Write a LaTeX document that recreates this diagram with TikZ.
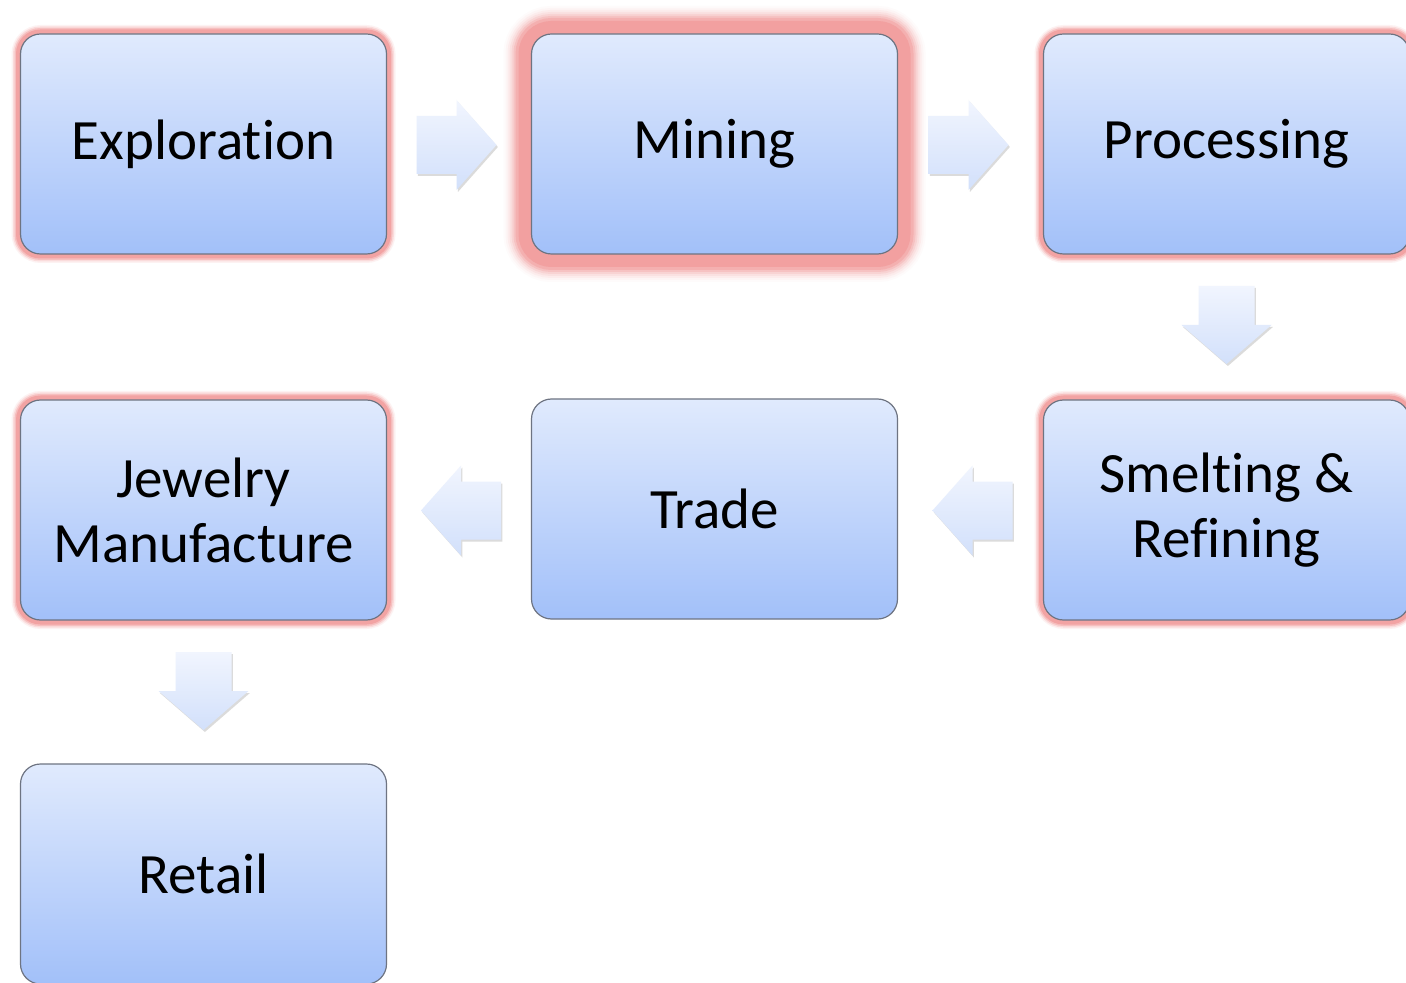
\documentclass[tikz,border=0pt]{standalone}
\usepackage{fontspec}
\setmainfont{Carlito}[Ligatures={NoCommon,NoRequired,NoContextual}]
\usetikzlibrary{shadows,calc}
\definecolor{boxtop}{HTML}{E0EAFD}
\definecolor{boxbot}{HTML}{A2C0F9}
\definecolor{boxline}{HTML}{6E7482}
\definecolor{glowred}{HTML}{F29C9C}
\definecolor{arrtop}{HTML}{F1F5FE}
\definecolor{arrbot}{HTML}{D2E0FB}
\tikzset{
  stagebox/.style={rectangle, rounded corners=10pt, draw=boxline, line width=0.6pt,
    top color=boxtop, bottom color=boxbot, minimum width=183pt, minimum height=110pt,
    align=center, inner sep=0pt,
    font=\fontsize{28.5pt}{32.5pt}\selectfont},
  glow/.style={
    preaction={draw=glowred, line width=9pt, draw opacity=0.12},
    preaction={draw=glowred, line width=7.5pt, draw opacity=0.25},
    preaction={draw=glowred, line width=6pt, draw opacity=0.45},
    preaction={draw=glowred, line width=4.5pt, draw opacity=0.8}},
  bigglow/.style={
    preaction={draw=glowred, line width=28pt, draw opacity=0.04},
    preaction={draw=glowred, line width=26pt, draw opacity=0.06},
    preaction={draw=glowred, line width=24pt, draw opacity=0.09},
    preaction={draw=glowred, line width=22pt, draw opacity=0.13},
    preaction={draw=glowred, line width=20pt, draw opacity=0.2},
    preaction={draw=glowred, line width=18pt, draw opacity=0.3},
    preaction={draw=glowred, line width=16pt, draw opacity=0.45},
    preaction={draw=glowred, line width=13pt, draw opacity=0.8}},
  blockarrow/.style={top color=arrtop, bottom color=arrbot, draw=none,
    drop shadow={shadow xshift=0.7pt, shadow yshift=-1pt, opacity=0.25, fill=black!55}},
}
\newcommand{\rarrow}[1]{\path[blockarrow] ($(#1)+(-40,-29)$) -- ++(40,0) -- ++(0,-16) -- ++(40,45) -- ++(-40,45) -- ++(0,-16) -- ++(-40,0) -- cycle;}
\newcommand{\larrow}[1]{\path[blockarrow] ($(#1)+(40,-29)$) -- ++(-40,0) -- ++(0,-16) -- ++(-40,45) -- ++(40,45) -- ++(0,-16) -- ++(40,0) -- cycle;}
\newcommand{\darrow}[1]{\path[blockarrow] ($(#1)+(-28,-39)$) -- ++(0,39) -- ++(-17,0) -- ++(45,39) -- ++(45,-39) -- ++(-17,0) -- ++(0,-39) -- cycle;}
\begin{document}
\begin{tikzpicture}[x=0.5pt,y=-0.5pt]
\fill[white] (0,0) rectangle (1406,983);
\clip (0,0) rectangle (1406,983);
\node[stagebox, glow] (expl) at (203.5,144) {\raisebox{-1pt}{Exploration}};
\node[stagebox, bigglow] (mine) at (714.5,144) {\raisebox{-1pt}{Mining}};
\node[stagebox, glow] (proc) at (1226.5,144) {\raisebox{-1pt}{Processing}};
\node[stagebox, glow] (smelt) at (1226.5,510) {Smelting \&\\Refining};
\node[stagebox] (trade) at (714.5,509) {\raisebox{-1pt}{Trade}};
\node[stagebox, glow] (jewel) at (203.5,510) {Jewelry\\Manufacture};
\node[stagebox] (retail) at (203.5,874) {\raisebox{-1pt}{Retail}};

\coordinate (c1) at ($(expl.east)!0.5!(mine.west)+(-2.5,1)$);
\coordinate (c2) at ($(mine.east)!0.5!(proc.west)+(-2,1)$);
\coordinate (c3) at ($(proc.south)!0.5!(smelt.north)+(0,-2)$);
\coordinate (c4) at ($(smelt.west)!0.5!(trade.east)+(2,1)$);
\coordinate (c5) at ($(trade.west)!0.5!(jewel.east)+(2,1)$);
\coordinate (c6) at ($(jewel.south)!0.5!(retail.north)+(0,-1)$);
\rarrow{c1}
\rarrow{c2}
\darrow{c3}
\larrow{c4}
\larrow{c5}
\darrow{c6}
\end{tikzpicture}
\end{document}
